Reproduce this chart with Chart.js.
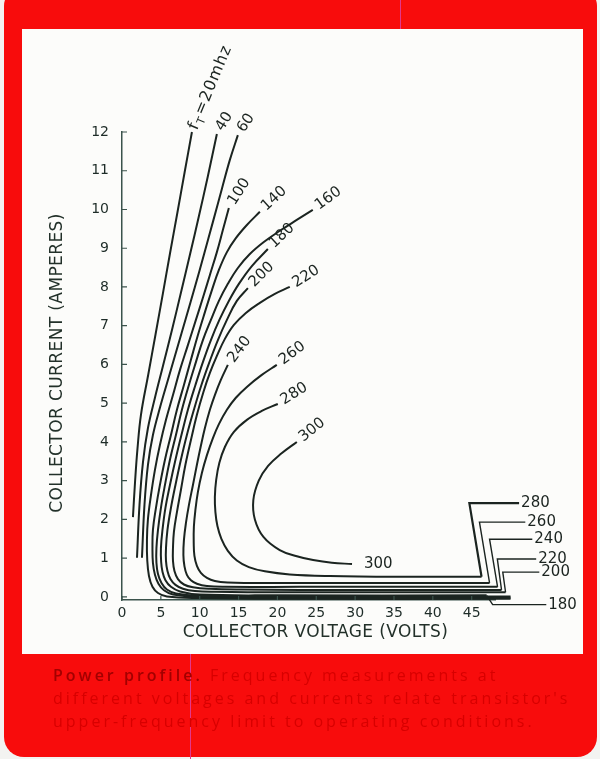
<!DOCTYPE html>
<html>
<head>
<meta charset="utf-8">
<script src="https://cdn.jsdelivr.net/npm/chart.js@4.4.1/dist/chart.umd.min.js"></script>
<style>
  html, body { margin: 0; padding: 0; background: #f3f3f1; }
  #page { position: relative; width: 600px; height: 759px; overflow: hidden; }
  #frame { position: absolute; left: 4px; top: -14px; width: 593px; height: 771px; background: #f80c0c; border-radius: 20px; }
  #panel { position: absolute; left: 22px; top: 29px; width: 561px; height: 625px; background: #fcfcfa; }
  .scratch { position: absolute; width: 1px; background: #e2388c; }
  #chart { position: absolute; left: 0; top: 0; }
  #caption { position: absolute; left: 53px; top: 664px; font-family: "Open Sans"; font-size: 16px; line-height: 23px;
             letter-spacing: 3px; color: #d80000; white-space: nowrap; }
  #caption b { color: #a30000; font-weight: 600; letter-spacing: 3px; }
</style>
</head>
<body>
<div id="page">
  <div id="frame"></div>
  <div id="panel"></div>
  <div class="scratch" style="left:400px; top:0; height:29px;"></div>
  <div class="scratch" style="left:190px; top:654px; height:105px;"></div>
  <canvas id="chart" width="600" height="759"></canvas>
  <div id="caption"><b>Power profile.</b> Frequency measurements at<br>different voltages and currents relate transistor's<br>upper-frequency limit to operating conditions.</div>
</div>
<script>
// axis ticks
const xTicks = [0, 5, 10, 15, 20, 25, 30, 35, 40, 45];
const yTicks = [0, 1, 2, 3, 4, 5, 6, 7, 8, 9, 10, 11, 12];

// fT contours, [collector volts, collector amps], from the labelled end down and out to the right
const freqLabels = ['20', '40', '60', '100', '140', '160', '180', '200', '220', '240', '260', '280', '300'];
const f20 = [[9.0, 12.0], [8.06, 10.96], [7.12, 9.91], [6.18, 8.87], [5.26, 7.83], [4.32, 6.78], [3.38, 5.74], [2.44, 4.7], [1.99, 3.82], [1.67, 2.94], [1.41, 2.06]];
const f40 = [[12.21, 11.95], [11.05, 10.86], [9.9, 9.83], [8.74, 8.83], [7.58, 7.85], [6.43, 6.89], [5.27, 5.96], [4.24, 5.14], [3.34, 4.36], [2.7, 3.48], [2.25, 2.37], [1.93, 1.01]];
const f60 = [[14.91, 11.92], [13.88, 11.28], [12.85, 10.53], [11.7, 9.68], [10.54, 8.83], [9.38, 8.0], [8.23, 7.2], [7.07, 6.4], [5.91, 5.6], [4.88, 4.88], [3.98, 4.18], [3.34, 3.41], [2.89, 2.37], [2.57, 1.01]];
const f100 = [[13.75, 10.04], [12.98, 9.47], [12.21, 8.9], [11.31, 8.31], [10.41, 7.72], [9.51, 7.15], [8.48, 6.5], [7.46, 5.86], [6.56, 5.21], [5.66, 4.57], [4.88, 3.92], [4.24, 3.28], [3.73, 2.63], [3.34, 2.01], [3.21, 1.47], [3.25, 0.95], [3.47, 0.54], [3.92, 0.26], [4.63, 0.1], [5.78, 0.01], [10, -0.03], [20, -0.05], [50, -0.05]];
const f140 = [[17.74, 9.94], [16.07, 9.6], [14.65, 9.26], [13.5, 8.9], [12.47, 8.44], [11.57, 7.92], [10.67, 7.35], [9.77, 6.76], [8.87, 6.12], [7.97, 5.47], [7.07, 4.83], [6.3, 4.18], [5.53, 3.54], [4.88, 2.89], [4.37, 2.3], [3.98, 1.73], [3.92, 1.26], [3.98, 0.88], [4.24, 0.57], [4.69, 0.34], [5.4, 0.17], [6.56, 0.06], [10, 0], [20, -0.02], [50, -0.02]];
const f160 = [[24.55, 9.99], [22.49, 9.73], [20.31, 9.45], [18.25, 9.16], [16.45, 8.85], [14.91, 8.49], [13.62, 8.08], [12.47, 7.64], [11.44, 7.15], [10.41, 6.63], [9.51, 6.06], [8.61, 5.47], [7.71, 4.83], [6.94, 4.18], [6.17, 3.54], [5.53, 2.89], [5.01, 2.3], [4.63, 1.73], [4.43, 1.26], [4.43, 0.88], [4.63, 0.59], [5.08, 0.36], [5.78, 0.19], [6.94, 0.09], [10, 0.03], [20, 0.01], [50, 0.01]];
const f180 = [[18.77, 8.98], [16.71, 8.54], [15.04, 8.08], [13.75, 7.64], [12.53, 7.15], [11.44, 6.63], [10.41, 6.06], [9.45, 5.47], [8.48, 4.83], [7.65, 4.18], [6.88, 3.54], [6.17, 2.89], [5.59, 2.3], [5.21, 1.73], [5.01, 1.26], [5.04, 0.9], [5.21, 0.65], [5.59, 0.43], [6.3, 0.26], [7.46, 0.14], [10, 0.06], [20, 0.04], [46.92, 0.04]];
const f200 = [[16.2, 7.97], [14.78, 7.64], [13.5, 7.15], [12.34, 6.63], [11.25, 6.06], [10.22, 5.47], [9.25, 4.83], [8.35, 4.18], [7.58, 3.54], [6.88, 2.89], [6.3, 2.3], [5.85, 1.73], [5.66, 1.26], [5.66, 0.93], [5.85, 0.67], [6.23, 0.46], [6.88, 0.31], [7.84, 0.21], [9.38, 0.15], [11.95, 0.13], [20.31, 0.12], [49.36, 0.12]];
const f220 = [[21.59, 8.0], [19.67, 7.82], [17.74, 7.59], [15.94, 7.33], [14.4, 7.02], [13.24, 6.66], [12.21, 6.22], [11.31, 5.78], [10.48, 5.29], [9.64, 4.7], [8.87, 4.05], [8.16, 3.41], [7.58, 2.76], [7.07, 2.19], [6.68, 1.68], [6.56, 1.26], [6.56, 0.93], [6.75, 0.67], [7.2, 0.46], [7.97, 0.32], [9.13, 0.25], [11.31, 0.21], [15.17, 0.19], [22.88, 0.18], [48.84, 0.18]];
const f240 = [[13.62, 5.99], [12.72, 5.6], [11.95, 5.21], [11.31, 4.83], [10.67, 4.36], [10.15, 3.9], [9.64, 3.41], [9.13, 2.89], [8.61, 2.37], [8.23, 1.91], [7.97, 1.47], [7.9, 1.08], [8.03, 0.8], [8.35, 0.57], [8.87, 0.43], [9.64, 0.34], [10.93, 0.28], [13.24, 0.26], [22.88, 0.26], [48.33, 0.26]];
const f260 = [[19.92, 5.99], [17.99, 5.73], [16.07, 5.42], [14.65, 5.14], [13.5, 4.83], [12.47, 4.46], [11.7, 4.1], [10.93, 3.66], [10.28, 3.2], [9.77, 2.71], [9.45, 2.25], [9.25, 1.81], [9.23, 1.39], [9.32, 1.06], [9.64, 0.8], [10.15, 0.62], [10.93, 0.49], [11.95, 0.41], [13.62, 0.37], [16.45, 0.36], [22.88, 0.36], [47.3, 0.36]];
const f280 = [[20.05, 4.98], [17.99, 4.8], [16.07, 4.57], [14.4, 4.26], [13.24, 3.87], [12.53, 3.46], [12.12, 3.02], [11.95, 2.58], [12.02, 2.19], [12.28, 1.83], [12.79, 1.5], [13.62, 1.19], [14.78, 0.94], [16.32, 0.77], [18.38, 0.66], [21.59, 0.58], [26.74, 0.54], [35.73, 0.52], [46.27, 0.52]];
const f300 = [[22.5, 4.0], [20.5, 3.7], [18.8, 3.38], [17.6, 3.0], [16.9, 2.5], [17.1, 2.0], [18.2, 1.55], [20.3, 1.21], [22.5, 1.05], [24.6, 0.95], [27, 0.88], [29.6, 0.85]];
const curveData = [f20, f40, f60, f100, f140, f160, f180, f200, f220, f240, f260, f280, f300];

// leader lines out to the right-hand labels
const leaderLabels = ['280', '260', '240', '220', '200', '180'];
const lead280 = [[46.27, 0.52], [44.7, 2.42], [51.1, 2.42]];
const lead260 = [[47.3, 0.36], [46.0, 1.93], [51.9, 1.93]];
const lead240 = [[48.33, 0.26], [47.3, 1.49], [52.8, 1.49]];
const lead220 = [[48.84, 0.18], [48.3, 0.98], [53.3, 0.98]];
const lead200 = [[49.36, 0.12], [49.0, 0.64], [53.7, 0.64]];
const lead180 = [[46.92, 0.04], [47.7, -0.2], [54.6, -0.2]];
const leaderData = [lead280, lead260, lead240, lead220, lead200, lead180];

const INK = '#1b2420';
const AXIS = '#3b534c';
const FONT = '"DejaVu Sans"';
const toXY = pts => pts.map(([x, y]) => ({ x, y }));

const datasets = [];
curveData.forEach((pts, i) => {
    datasets.push({
        label: freqLabels[i] + ' MHz',
        data: toXY(pts),
        borderColor: INK,
        borderWidth: 2,
        pointRadius: 0,
        tension: 0.4,
        clip: false,
        topLabel: freqLabels[i],
        endLabel: freqLabels[i] === '300' ? '300' : null
    });
});
leaderData.forEach((pts, i) => {
    datasets.push({
        label: leaderLabels[i] + ' leader',
        data: toXY(pts),
        borderColor: INK,
        borderWidth: i === 0 ? 2.2 : 1.4,
        pointRadius: 0,
        tension: 0,
        clip: false,
        endLabel: leaderLabels[i]
    });
});

// small tick marks pointing into the plot
const inwardTicks = {
    id: 'inwardTicks',
    afterDraw(chart) {
        const { ctx, chartArea: a, scales: { x, y } } = chart;
        ctx.save();
        ctx.strokeStyle = AXIS;
        ctx.lineWidth = 1.2;
        ctx.beginPath();
        xTicks.forEach(v => {
            const px = x.getPixelForValue(v);
            ctx.moveTo(px, a.bottom);
            ctx.lineTo(px, a.bottom - 4);
        });
        yTicks.forEach(v => {
            const py = y.getPixelForValue(v);
            ctx.moveTo(a.left, py);
            ctx.lineTo(a.left + 5, py);
        });
        ctx.stroke();
        ctx.restore();
    }
};

// frequency labels at the curve ends
const curveLabels = {
    id: 'curveLabels',
    afterDatasetsDraw(chart) {
        const ctx = chart.ctx;
        chart.data.datasets.forEach((ds, i) => {
            const pts = chart.getDatasetMeta(i).data;
            ctx.save();
            ctx.fillStyle = INK;
            ctx.textBaseline = 'middle';
            ctx.font = '15px ' + FONT;
            if (ds.topLabel) {
                const p0 = pts[0], p1 = pts[1];
                const tangent = Math.atan2(p0.y - p1.y, p0.x - p1.x);
                ctx.save();
                ctx.translate(p0.x, p0.y);
                ctx.rotate(tangent * 0.5 - Math.PI / 9);
                if (ds.topLabel === '20') {
                    ctx.rotate(-Math.PI / 24);
                    ctx.font = '16px ' + FONT;
                    ctx.letterSpacing = '1px';
                    let w = 3;
                    ctx.fillText('f', w, 0);
                    w += ctx.measureText('f').width + 1;
                    ctx.font = '11px ' + FONT;
                    ctx.fillText('T', w, 5);
                    w += ctx.measureText('T').width + 1;
                    ctx.font = '16px ' + FONT;
                    ctx.fillText('=20mhz', w, 0);
                } else {
                    ctx.fillText(ds.topLabel, 5, 0);
                }
                ctx.restore();
            }
            if (ds.endLabel) {
                const pe = pts[pts.length - 1];
                ctx.fillText(ds.endLabel, pe.x + (ds.topLabel ? 12 : 2), pe.y);
            }
            ctx.restore();
        });
    }
};

// axis titles
const axisTitles = {
    id: 'axisTitles',
    afterDraw(chart) {
        const { ctx, chartArea: a } = chart;
        ctx.save();
        ctx.fillStyle = '#223029';
        ctx.font = '17px ' + FONT;
        ctx.letterSpacing = '0.4px';
        ctx.textAlign = 'center';
        ctx.textBaseline = 'middle';
        ctx.fillText('COLLECTOR VOLTAGE (VOLTS)', (a.left + a.right) / 2 + 7, a.bottom + 33);
        ctx.translate(a.left - 64, (a.top + a.bottom) / 2 - 3);
        ctx.rotate(-Math.PI / 2);
        ctx.fillText('COLLECTOR CURRENT (AMPERES)', 0, 0);
        ctx.restore();
    }
};

new Chart(document.getElementById('chart'), {
    type: 'line',
    data: { datasets },
    options: {
        responsive: false,
        animation: false,
        devicePixelRatio: 1,
        layout: { padding: { top: 132, right: 105, bottom: 119, left: 0 } },
        elements: { line: { capBezierPoints: false } },
        plugins: { legend: { display: false }, tooltip: { enabled: false } },
        scales: {
            x: {
                type: 'linear',
                min: 0,
                max: 48,
                afterFit: s => { s.height = 40; },
                afterBuildTicks: s => { s.ticks = xTicks.map(value => ({ value })); },
                grid: { display: false, drawTicks: false },
                border: { display: true, color: AXIS, width: 1.5 },
                ticks: { color: '#1e2c28', padding: 5, font: { family: 'DejaVu Sans', size: 14 }, maxRotation: 0 }
            },
            y: {
                type: 'linear',
                min: -0.08,
                max: 12,
                afterFit: s => { s.width = 122; },
                afterBuildTicks: s => { s.ticks = yTicks.map(value => ({ value })); },
                grid: { display: false, drawTicks: false },
                border: { display: true, color: AXIS, width: 1.5 },
                ticks: { color: '#1e2c28', padding: 13, font: { family: 'DejaVu Sans', size: 14 } }
            }
        }
    },
    plugins: [inwardTicks, curveLabels, axisTitles]
});
</script>
</body>
</html>
